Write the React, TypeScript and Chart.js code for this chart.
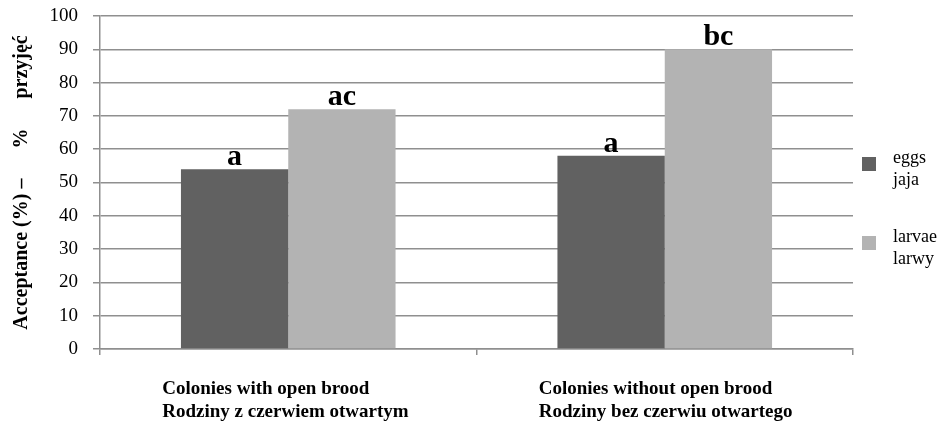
import React, { useEffect, useRef } from "react";
import { Chart, registerables } from "chart.js";

Chart.register(...registerables);

const categories: string[][] = [
  ["Colonies with open brood", "Rodziny z czerwiem otwartym"],
  ["Colonies without open brood", "Rodziny bez czerwiu otwartego"],
];
const eggsValues = [54, 58];
const larvaeValues = [72, 90];
const eggsMarks = ["a", "a"];
const larvaeMarks = ["ac", "bc"];
const legendLines: string[][] = [
  ["eggs", "jaja"],
  ["larvae", "larwy"],
];
const NB = "\u00A0";
const yTitle = "Acceptance (%) \u2013" + NB.repeat(6) + "%" + NB.repeat(6) + "przyjęć";

const SERIF = "'Liberation Serif', 'Times New Roman', serif";
const GRID = "#8f8f8f";
const DARK = "#616161";
const LIGHT = "#b3b3b3";

export default function App() {
  const ref = useRef<HTMLCanvasElement | null>(null);

  useEffect(() => {
    document.body.style.margin = "0";
    const marks = [eggsMarks, larvaeMarks];

    const labelPlugin = {
      id: "barMarks",
      afterDatasetsDraw(chart: any) {
        const ctx = chart.ctx;
        ctx.save();
        ctx.fillStyle = "#000";
        ctx.font = `bold 30px ${SERIF}`;
        ctx.textAlign = "center";
        ctx.textBaseline = "alphabetic";
        chart.data.datasets.forEach((_: any, i: number) => {
          const meta = chart.getDatasetMeta(i);
          meta.data.forEach((el: any, j: number) => {
            ctx.fillText(marks[i][j], el.x, el.y - 4);
          });
        });
        ctx.restore();
      },
    };

    const legendPlugin = {
      id: "sideLegend",
      afterDraw(chart: any) {
        const ctx = chart.ctx;
        const area = chart.chartArea;
        ctx.save();
        const boxTops = [157, 236];
        chart.data.datasets.forEach((ds: any, i: number) => {
          const bx = area.right + 9;
          const by = boxTops[i];
          ctx.fillStyle = ds.backgroundColor;
          ctx.fillRect(bx, by, 14, 14);
          ctx.fillStyle = "#000";
          ctx.font = `18px ${SERIF}`;
          ctx.textAlign = "left";
          ctx.textBaseline = "alphabetic";
          const lines = legendLines[i];
          lines.forEach((t, k) => {
            ctx.fillText(t, bx + 31, by + 6 + k * 22);
          });
        });
        ctx.restore();
      },
    };

    const chart = new Chart(ref.current as HTMLCanvasElement, {
      type: "bar",
      data: {
        labels: categories,
        datasets: [
          {
            label: "eggs jaja",
            data: eggsValues,
            backgroundColor: DARK,
            categoryPercentage: 0.57,
            barPercentage: 1.0,
          },
          {
            label: "larvae larwy",
            data: larvaeValues,
            backgroundColor: LIGHT,
            categoryPercentage: 0.57,
            barPercentage: 1.0,
          },
        ],
      },
      options: {
        animation: false,
        responsive: true,
        maintainAspectRatio: false,
        layout: { padding: { top: 16, right: 93, left: 0, bottom: 0 } },
        plugins: {
          legend: { display: false },
          tooltip: { enabled: false },
        },
        scales: {
          x: {
            grid: {
              display: true,
              drawOnChartArea: false,
              drawTicks: true,
              tickLength: 6,
              color: GRID,
              lineWidth: 1.5,
              offset: true,
            },
            border: { display: true, color: GRID, width: 1.5 },
            ticks: {
              color: "#000",
              font: { family: SERIF, size: 19, weight: "bold" },
              align: "start",
              labelOffset: -126,
              padding: 23,
              maxRotation: 0,
              minRotation: 0,
              autoSkip: false,
            },
            afterFit(scale: any) {
              scale.height = 79;
              scale.paddingLeft = 0;
              scale.paddingRight = 0;
            },
          },
          y: {
            min: 0,
            max: 100,
            grid: {
              color: GRID,
              lineWidth: 1.5,
              tickLength: 7,
              drawTicks: true,
            },
            border: { display: true, color: GRID, width: 1.5 },
            ticks: {
              stepSize: 10,
              color: "#000",
              font: { family: SERIF, size: 19 },
              padding: 15,
            },
            title: {
              display: true,
              text: yTitle,
              color: "#000",
              font: { family: SERIF, size: 20, weight: "bold" },
              padding: { top: 10, bottom: 0 },
            },
            afterFit(scale: any) {
              scale.width = 100;
              scale.paddingTop = 0;
              scale.paddingBottom = 0;
            },
          },
        },
      },
      plugins: [labelPlugin, legendPlugin],
    });

    return () => chart.destroy();
  }, []);

  return (
    <div style={{ width: 946, height: 428, position: "relative" }}>
      <canvas ref={ref} />
    </div>
  );
}
